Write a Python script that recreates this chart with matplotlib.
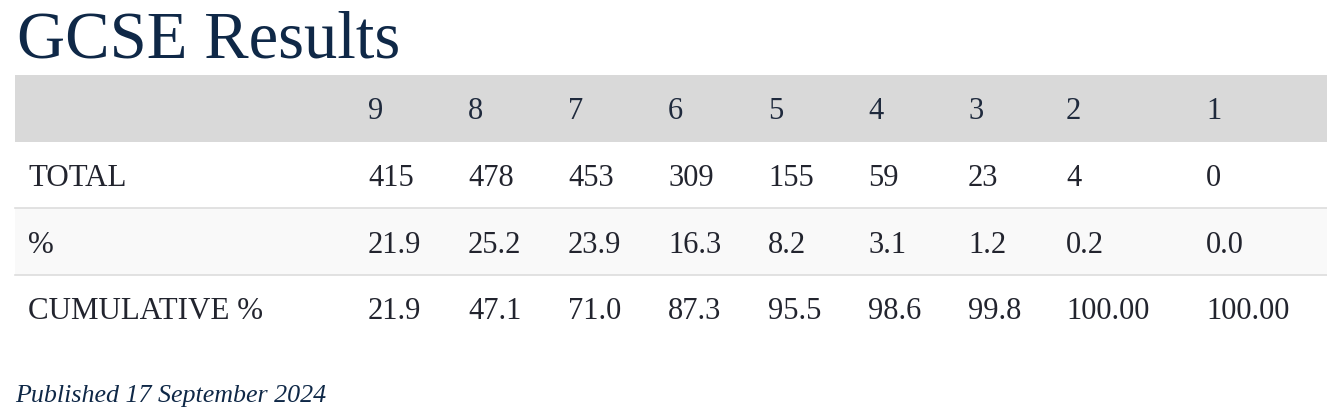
import matplotlib
matplotlib.use("Agg")
import matplotlib.pyplot as plt
from matplotlib.patches import Rectangle

# ---- data ----
title = "GCSE Results"
grades = ["9", "8", "7", "6", "5", "4", "3", "2", "1"]
row_labels = ["TOTAL", "%", "CUMULATIVE %"]
totals = [415, 478, 453, 309, 155, 59, 23, 4, 0]
percents = ["21.9", "25.2", "23.9", "16.3", "8.2", "3.1", "1.2", "0.2", "0.0"]
cumulative = ["21.9", "47.1", "71.0", "87.3", "95.5", "98.6", "99.8", "100.00", "100.00"]
footnote = "Published 17 September 2024"

# ---- layout ----
W, H = 1327, 418
col_x = [368, 468, 568, 668, 768, 868, 968, 1066, 1206]
label_x = 28
table_left, table_right = 15, 1327
header_top, row_h = 75, 66.7
row_bg = ["#ffffff", "#f9f9f9", "#ffffff"]
header_bg = "#d9d9d9"
line_color = "#dddddd"
title_color = "#0f2847"
text_color = "#22242e"
serif = ["Liberation Serif", "DejaVu Serif"]

fig = plt.figure(figsize=(W / 100, H / 100), dpi=100)
ax = fig.add_axes([0, 0, 1, 1])
ax.set_xlim(0, W)
ax.set_ylim(H, 0)
ax.axis("off")

ax.text(17, 57, title, fontsize=48, family=serif, color=title_color, va="baseline", ha="left")

# header
ax.add_patch(Rectangle((table_left, header_top), table_right - table_left, row_h,
                       facecolor=header_bg, edgecolor="none"))
hy = header_top + row_h / 2
for x, g in zip(col_x, grades):
    ax.text(x, hy, g, fontsize=22, family=serif, color="#1f2a3d", va="center_baseline", ha="left")

rows = [[str(v) for v in totals], percents, cumulative]
for i, (lab, vals) in enumerate(zip(row_labels, rows)):
    top = header_top + row_h * (i + 1)
    ax.add_patch(Rectangle((table_left, top), table_right - table_left, row_h,
                           facecolor=row_bg[i], edgecolor="none"))
    if i > 0:
        ax.plot([table_left, table_right], [top, top], color=line_color, lw=1.2)
    cy = top + row_h / 2
    ax.text(label_x, cy, lab, fontsize=22.3, family=serif, color=text_color, va="center_baseline", ha="left")
    for x, v in zip(col_x, vals):
        ax.text(x, cy, v, fontsize=22, family=serif, color=text_color, va="center_baseline", ha="left")

ax.text(15, 402, footnote, fontsize=18.7, family=serif, style="italic", color=title_color,
        va="baseline", ha="left")

fig.savefig("out.png", dpi=100)
